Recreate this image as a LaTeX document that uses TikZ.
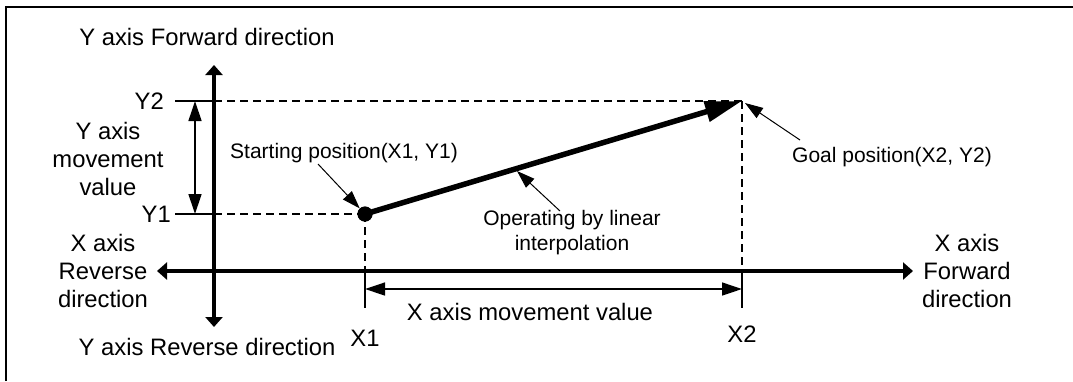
\documentclass[tikz,border=0pt]{standalone}
\usepackage{fontspec}
\setmainfont{Liberation Sans}
\usetikzlibrary{arrows.meta}
\begin{document}
\begin{tikzpicture}[x=1pt,y=-1pt,
 big/.style={font=\fontsize{23.8}{28}\selectfont, inner sep=0pt, align=center},
 small/.style={font=\fontsize{21}{25}\selectfont, inner sep=0pt, align=center},
 axis/.style={line width=3.2pt, {Triangle[length=10pt,width=17pt]}-{Triangle[length=10pt,width=17pt]}},
 meas/.style={line width=1.3pt, {Triangle[length=20pt,width=13pt]}-{Triangle[length=20pt,width=13pt]}},
 guide/.style={line width=1.7pt, dash pattern=on 8pt off 5pt},
 tickline/.style={line width=1.5pt},
 pointer/.style={line width=1pt, -{Triangle[length=18pt,width=12pt]}},
 mainline/.style={line width=5.5pt, -{Triangle[length=37pt,width=20pt]}},
 frameline/.style={line width=2.5pt}]
\useasboundingbox (0,0) rectangle (1073,381);
% frame (open at right and bottom)
\draw[frameline] (6,381) -- (6,7) -- (1073,7);

% coordinates
\coordinate (yt) at (214,65);
\coordinate (yb) at (214,327);
\coordinate (xl) at (157,271);
\coordinate (xr) at (913,271);
\coordinate (G) at (742,101);
\coordinate (Y2t) at (175,101);
\coordinate (Y2a) at (214,101);
\coordinate (Y1t) at (175,214);
\coordinate (Y1a) at (214,214);
\coordinate (X1a) at (365,271);
\coordinate (X1b) at (365,308);
\coordinate (X2a) at (742,271);
\coordinate (X2b) at (742,308);
\coordinate (mx1) at (365,289);
\coordinate (mx2) at (742,289);
\coordinate (my1) at (195,101);
\coordinate (my2) at (195,214);
\coordinate (spp) at (318,164);
\coordinate (gpp) at (800,140);
\coordinate (gpt) at (745,103);
\coordinate (opp) at (560,211);
\coordinate (opt) at (517,171);

\node[circle, fill, inner sep=0pt, minimum size=15pt] (dot) at (365,214) {};

% guides
\draw[guide] (Y2a) -- (G);
\draw[guide] (Y1a) -- (dot.center);
\draw[guide] (dot.center) -- (X1a);
\draw[guide] (G) -- (X2a);
\draw[tickline] (Y2t) -- (Y2a);
\draw[tickline] (Y1t) -- (Y1a);
\draw[tickline] (X1a) -- (X1b);
\draw[tickline] (X2a) -- (X2b);

% axes
\draw[axis] (yb) -- (yt);
\draw[axis] (xl) -- (xr);

% movement measures
\draw[meas] (mx1) -- (mx2);
\draw[meas] (my1) -- (my2);

% main path
\draw[mainline] (dot.center) -- (G);
\node[circle, fill, inner sep=0pt, minimum size=15pt] at (dot) {};

% labels
\node[big] (yfw) at (207,37) {Y axis Forward direction};
\node[big] (yrv) at (207,347) {Y axis Reverse direction};
\node[big] (xrv) at (103,271) {X axis\\Reverse\\direction};
\node[big] (xfw) at (967,271) {X axis\\Forward\\direction};
\node[big] (ymv) at (108,159) {Y axis\\movement\\value};
\node[big, anchor=east] (y2l) at (164,101) {Y2};
\node[big, anchor=east] (y1l) at (171,214) {Y1};
\node[big] (x1l) at (365,338) {X1};
\node[big] (x2l) at (742,334) {X2};
\node[big] (xmv) at (530,312) {X axis movement value};
\node[small, anchor=west] (sp) at (230,153) {Starting position(X1, Y1)};
\node[small, anchor=west] (gp) at (792,157) {Goal position(X2, Y2)};
\node[small] (op) at (572,233) {Operating by linear\\interpolation};

% pointers
\draw[pointer] (spp) -- (dot);
\draw[pointer] (gpp) -- (gpt);
\draw[pointer] (opp) -- (opt);
\end{tikzpicture}
\end{document}
